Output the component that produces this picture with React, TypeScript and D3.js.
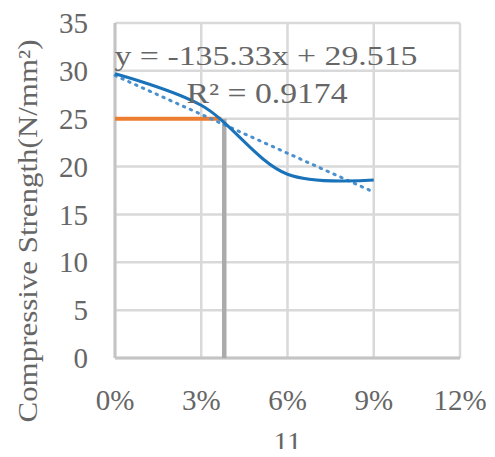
import React from "react";
import * as d3 from "d3";

const W = 495;
const H = 457;
const M = { left: 115, top: 23, right: 35, bottom: 99 };

// series
const dosage = [0, 0.03, 0.06, 0.09];
const strength = [29.7, 26.4, 19.2, 18.6];
const xTicks = [0, 0.03, 0.06, 0.09, 0.12];
const yTicks = [0, 5, 10, 15, 20, 25, 30, 35];
const slope = -135.33;
const intercept = 29.515;
const target = 25;
const targetDosage = 0.038;

const GRID = "#d9d9d9";
const TXT = "#666666";
const FONT = "'Liberation Serif', 'Times New Roman', serif";

export default function App() {
  const x = d3.scaleLinear().domain([0, 0.12]).range([M.left, W - M.right]);
  const y = d3.scaleLinear().domain([0, 35]).range([H - M.bottom, M.top]);

  const pts: [number, number][] = dosage.map((d, i) => [d, strength[i]]);
  const line = d3
    .line<[number, number]>()
    .x((d) => x(d[0]))
    .y((d) => y(d[1]))
    .curve(d3.curveCatmullRom.alpha(0.5));

  const trend: [number, number][] = [0, 0.09].map((d) => [d, slope * d + intercept]);
  const trendLine = d3
    .line<[number, number]>()
    .x((d) => x(d[0]))
    .y((d) => y(d[1]));

  const fmt = d3.format(".0%");

  return (
    <svg
      width={W}
      height={H}
      style={{ display: "block", margin: -8, background: "#fff" }}
      fontFamily={FONT}
    >
      {yTicks.map((t) => (
        <line key={"gy" + t} x1={x(0)} x2={x(0.12)} y1={y(t)} y2={y(t)} stroke={GRID} strokeWidth={2.5} />
      ))}
      {xTicks.map((t) => (
        <line key={"gx" + t} x1={x(t)} x2={x(t)} y1={y(0)} y2={y(35)} stroke={GRID} strokeWidth={2.5} />
      ))}
      <line x1={x(0)} x2={x(0)} y1={y(0)} y2={y(35)} stroke="#c4c4c4" strokeWidth={3} />
      <line x1={x(0)} x2={x(0.12)} y1={y(0)} y2={y(0)} stroke="#c4c4c4" strokeWidth={3} />

      {yTicks.map((t) => (
        <text key={"ty" + t} x={88} y={y(t)} dy="0.35em" textAnchor="end" fontSize={29} fill={TXT}>
          {t}
        </text>
      ))}
      {xTicks.map((t) => (
        <text key={"tx" + t} x={x(t)} y={410} textAnchor="middle" fontSize={29} fill={TXT}>
          {fmt(t)}
        </text>
      ))}
      <text x={(x(0) + x(0.12)) / 2} y={452} textAnchor="middle" fontSize={29} fill={TXT}>
        11
      </text>
      <text
        transform={`translate(37,231) rotate(-90)`}
        textAnchor="middle"
        fontSize={27}
        fill={TXT}
        textLength={383}
        lengthAdjust="spacingAndGlyphs"
      >
        Compressive Strength(N/mm²)
      </text>

      <line x1={x(targetDosage)} x2={x(targetDosage)} y1={y(target)} y2={y(0)} stroke="#ababab" strokeWidth={4.5} />
      <line x1={x(0)} x2={x(targetDosage) - 3} y1={y(target)} y2={y(target)} stroke="#ed7d31" strokeWidth={4} />

      <path d={trendLine(trend) || ""} fill="none" stroke="#4a90cf" strokeWidth={3} strokeDasharray="1.5 6" strokeLinecap="round" />
      <path d={line(pts) || ""} fill="none" stroke="#1a72b9" strokeWidth={3} />

      <text x={266} y={65} textAnchor="middle" fontSize={27} fill={TXT} textLength={303} lengthAdjust="spacingAndGlyphs">
        y = -135.33x + 29.515
      </text>
      <text x={267} y={103} textAnchor="middle" fontSize={29} fill={TXT} textLength={161} lengthAdjust="spacingAndGlyphs">
        R² = 0.9174
      </text>
    </svg>
  );
}
